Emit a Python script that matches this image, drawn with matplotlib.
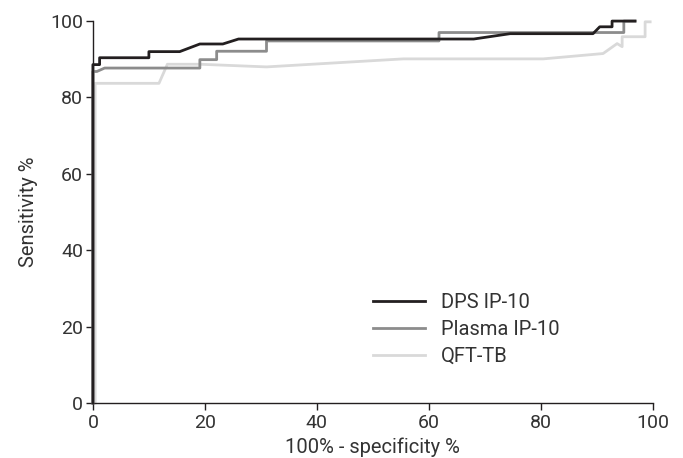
import matplotlib.pyplot as plt
import numpy as np

plt.rcParams['font.family'] = ['Roboto', 'DejaVu Sans']

# ROC curves: x = 100% - specificity %, y = sensitivity %
dps_x = [0, 0, 1.2, 1.2, 10.0, 10.0, 15.5, 19.1, 23.2, 26.0, 61.6, 68.0, 74.5, 89.3, 90.5, 92.7, 92.7, 96.8]
dps_y = [0, 88.6, 88.6, 90.4, 90.4, 92.0, 92.0, 94.0, 94.0, 95.3, 95.3, 95.3, 96.7, 96.7, 98.5, 98.5, 100, 100]

plasma_x = [0, 0, 0.7, 2.1, 19.1, 19.1, 22.1, 22.1, 31.0, 31.0, 61.8, 61.8, 94.8, 94.8, 96.8]
plasma_y = [0, 86.8, 86.8, 87.7, 87.7, 89.9, 89.9, 92.1, 92.1, 94.8, 94.8, 97.0, 97.0, 100, 100]

qft_x = [0.4, 0.4, 11.8, 13.3, 19.1, 31.0, 55.4, 80.4, 91.1, 93.6, 94.5, 94.5, 98.6, 98.6, 99.5]
qft_y = [0, 83.7, 83.7, 88.7, 88.7, 88.0, 90.1, 90.1, 91.5, 94.1, 93.3, 95.9, 95.9, 99.8, 99.8]

txt = '#333333'

fig = plt.figure(figsize=(6.83, 4.58), dpi=100)
ax = fig.add_axes([0.136, 0.120, 0.820, 0.834])

ax.plot(qft_x, qft_y, color='#d9d9d9', lw=2.0, label='QFT-TB', clip_on=False, zorder=2)
ax.plot(plasma_x, plasma_y, color='#8c8c8c', lw=2.0, label='Plasma IP-10', clip_on=False, zorder=3)
ax.plot(dps_x, dps_y, color='#231f20', lw=2.0, label='DPS IP-10', clip_on=False, zorder=4)

ax.set_xlim(0, 100)
ax.set_ylim(0, 100)
ax.set_xticks(np.arange(0, 101, 20))
ax.set_yticks(np.arange(0, 101, 20))
for s in ['top', 'right']:
    ax.spines[s].set_visible(False)
for s in ['left', 'bottom']:
    ax.spines[s].set_color('#231f20')
    ax.spines[s].set_linewidth(1.0)
ax.tick_params(direction='out', length=5, width=1.0, colors='#231f20', labelcolor=txt,
               labelsize=14, pad=2)
ax.tick_params(axis='x', pad=3)
ax.set_xlabel('100% - specificity %', fontsize=14.5, color=txt, labelpad=4)
ax.set_ylabel('Sensitivity %', fontsize=14.5, color=txt, labelpad=9)

h, l = ax.get_legend_handles_labels()
ax.legend(h[::-1], l[::-1], loc='lower left', bbox_to_anchor=(0.467, 0.05), frameon=False,
          fontsize=14.5, handlelength=2.6, labelspacing=0.4, handletextpad=0.8,
          labelcolor=txt)

fig.savefig('out.png', dpi=100)
